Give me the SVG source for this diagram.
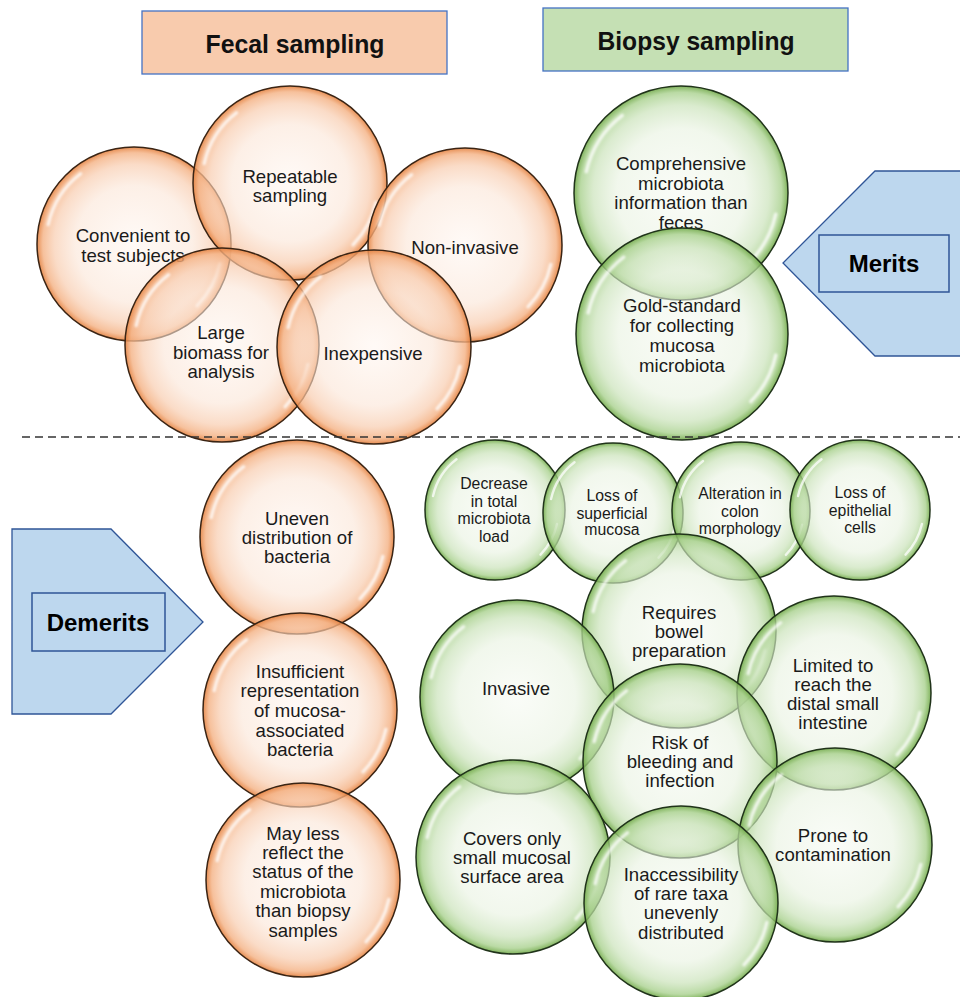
<svg xmlns="http://www.w3.org/2000/svg" xmlns:xlink="http://www.w3.org/1999/xlink" width="960" height="997" viewBox="0 0 960 997">
<style>
.t{font-family:"Liberation Sans",Arial,sans-serif;font-size:18.6px;fill:#1a1a1a;text-anchor:middle}
.s{font-size:15.8px}
.b{font-weight:bold;font-size:24px;fill:#000}
.hd{font-family:"Liberation Sans",Arial,sans-serif;font-weight:bold;font-size:26px;fill:#111;text-anchor:middle}
.oc{fill:url(#og);stroke:#3a2414;stroke-width:1.5}
.gc{fill:url(#gg);stroke:#20331a;stroke-width:1.5}
.arrow{fill:#BDD7EE;stroke:#2F5597;stroke-width:1.3}
.ibox{fill:#BDD7EE;stroke:#2F5597;stroke-width:1.5}
.sep{stroke:#333;stroke-width:1.5;stroke-dasharray:8 5;fill:none}
</style>
<defs>
<radialGradient id="og" cx="0.5" cy="0.5" r="0.5">
<stop offset="0" stop-color="#FFF6F0" stop-opacity="0.55"/>
<stop offset="0.6" stop-color="#FBE5D6" stop-opacity="0.6"/>
<stop offset="0.82" stop-color="#F8CBAD" stop-opacity="0.68"/>
<stop offset="0.94" stop-color="#F4B183" stop-opacity="0.8"/>
<stop offset="1" stop-color="#E4813F" stop-opacity="0.9"/>
</radialGradient>
<radialGradient id="gg" cx="0.5" cy="0.5" r="0.5">
<stop offset="0" stop-color="#F6FAF2" stop-opacity="0.55"/>
<stop offset="0.6" stop-color="#E8F2E0" stop-opacity="0.6"/>
<stop offset="0.82" stop-color="#C9E2B8" stop-opacity="0.68"/>
<stop offset="0.94" stop-color="#A9D18E" stop-opacity="0.8"/>
<stop offset="1" stop-color="#72AA4A" stop-opacity="0.9"/>
</radialGradient>
<filter id="soft" x="-20%" y="-20%" width="140%" height="140%"><feGaussianBlur stdDeviation="0.9"/></filter>
<g id="hl" fill="none" stroke="#fff" stroke-width="3.5" stroke-linecap="round" stroke-opacity="0.75" filter="url(#soft)">
<path d="M -88.5,-20 A 91 91 0 0 1 -55,-72.5"/>
<path d="M 88.5,20 A 91 91 0 0 1 65,63.7"/>
</g>
</defs>

<rect width="960" height="997" fill="#fff"/>

<g id="header-fecal">
<rect x="142" y="11" width="305" height="63" fill="#F8CBAD" stroke="#4472C4" stroke-width="1.3"/>
<text class="hd" x="295" y="53" textLength="179" lengthAdjust="spacingAndGlyphs">Fecal sampling</text>
</g>
<g id="header-biopsy">
<rect x="543" y="8" width="305" height="63" fill="#C5E0B4" stroke="#4472C4" stroke-width="1.3"/>
<text class="hd" x="696" y="50" textLength="197" lengthAdjust="spacingAndGlyphs">Biopsy sampling</text>
</g>

<!-- Fecal merits -->
<g id="convenient">
<circle class="oc" cx="134" cy="244" r="97"/><use href="#hl" transform="translate(134,244) scale(0.97)"/>
<text class="t" x="133" y="242">Convenient to</text><text class="t" x="133" y="262">test subjects</text>
</g>
<g id="repeatable">
<circle class="oc" cx="290" cy="183" r="97"/><use href="#hl" transform="translate(290,183) scale(0.97)"/>
<text class="t" x="290" y="183">Repeatable</text><text class="t" x="290" y="202">sampling</text>
</g>
<g id="noninvasive">
<circle class="oc" cx="465" cy="245" r="97"/><use href="#hl" transform="translate(465,245) scale(0.97)"/>
<text class="t" x="465" y="254">Non-invasive</text>
</g>
<g id="largebiomass">
<circle class="oc" cx="222" cy="345" r="97"/><use href="#hl" transform="translate(222,345) scale(0.97)"/>
<text class="t" x="221" y="339">Large</text><text class="t" x="221" y="359">biomass for</text><text class="t" x="221" y="378">analysis</text>
</g>
<g id="inexpensive">
<circle class="oc" cx="374" cy="347" r="97"/><use href="#hl" transform="translate(374,347) scale(0.97)"/>
<text class="t" x="373" y="360">Inexpensive</text>
</g>

<!-- Biopsy merits -->
<g id="comprehensive">
<circle class="gc" cx="681" cy="193" r="107"/><use href="#hl" transform="translate(681,193) scale(1.07)"/>
<text class="t" x="681" y="170">Comprehensive</text><text class="t" x="681" y="190">microbiota</text><text class="t" x="681" y="209">information than</text><text class="t" x="681" y="229">feces</text>
</g>
<g id="goldstandard">
<circle class="gc" cx="682" cy="334" r="106"/><use href="#hl" transform="translate(682,334) scale(1.06)"/>
<text class="t" x="682" y="312">Gold-standard</text><text class="t" x="682" y="332">for collecting</text><text class="t" x="682" y="352">mucosa</text><text class="t" x="682" y="372">microbiota</text>
</g>

<g id="merits">
<polygon class="arrow" points="962,171 875,171 783,263 875,356 962,356"/>
<rect class="ibox" x="819" y="235" width="130" height="57"/>
<text class="t b" x="884" y="272">Merits</text>
</g>

<g id="separator">
<line class="sep" x1="22" y1="437" x2="960" y2="437"/>
</g>

<g id="demerits">
<polygon class="arrow" points="12,529 111,529 203,622 111,714 12,714"/>
<rect class="ibox" x="32" y="593" width="133" height="58"/>
<text class="t b" x="98" y="631">Demerits</text>
</g>

<!-- Fecal demerits -->
<g id="uneven">
<circle class="oc" cx="297" cy="537" r="97"/><use href="#hl" transform="translate(297,537) scale(0.97)"/>
<text class="t" x="297" y="525">Uneven</text><text class="t" x="297" y="544">distribution of</text><text class="t" x="297" y="563">bacteria</text>
</g>
<g id="insufficient">
<circle class="oc" cx="300" cy="710" r="97"/><use href="#hl" transform="translate(300,710) scale(0.97)"/>
<text class="t" x="300" y="678">Insufficient</text><text class="t" x="300" y="697">representation</text><text class="t" x="300" y="717">of mucosa-</text><text class="t" x="300" y="737">associated</text><text class="t" x="300" y="756">bacteria</text>
</g>
<g id="mayless">
<circle class="oc" cx="303" cy="880" r="97"/><use href="#hl" transform="translate(303,880) scale(0.97)"/>
<text class="t" x="303" y="840">May less</text><text class="t" x="303" y="859">reflect the</text><text class="t" x="303" y="878">status of the</text><text class="t" x="303" y="898">microbiota</text><text class="t" x="303" y="917">than biopsy</text><text class="t" x="303" y="937">samples</text>
</g>

<!-- Biopsy demerits: small -->
<g id="decrease">
<circle class="gc" cx="495" cy="510" r="70"/><use href="#hl" transform="translate(495,510) scale(0.7)"/>
<text class="t s" x="494" y="489">Decrease</text><text class="t s" x="494" y="507">in total</text><text class="t s" x="494" y="524">microbiota</text><text class="t s" x="494" y="542">load</text>
</g>
<g id="superficial">
<circle class="gc" cx="613" cy="513" r="70"/><use href="#hl" transform="translate(613,513) scale(0.7)"/>
<text class="t s" x="612" y="501">Loss of</text><text class="t s" x="612" y="519">superficial</text><text class="t s" x="612" y="535">mucosa</text>
</g>
<g id="alteration">
<circle class="gc" cx="741" cy="511" r="69"/><use href="#hl" transform="translate(741,511) scale(0.69)"/>
<text class="t s" x="740" y="499">Alteration in</text><text class="t s" x="740" y="517">colon</text><text class="t s" x="740" y="534">morphology</text>
</g>
<g id="epithelial">
<circle class="gc" cx="860" cy="510" r="70"/><use href="#hl" transform="translate(860,510) scale(0.7)"/>
<text class="t s" x="860" y="498">Loss of</text><text class="t s" x="860" y="516">epithelial</text><text class="t s" x="860" y="533">cells</text>
</g>

<!-- Biopsy demerits: large -->
<g id="requires">
<circle class="gc" cx="679" cy="631" r="97"/><use href="#hl" transform="translate(679,631) scale(0.97)"/>
<text class="t" x="679" y="619">Requires</text><text class="t" x="679" y="638">bowel</text><text class="t" x="679" y="657">preparation</text>
</g>
<g id="invasive">
<circle class="gc" cx="517" cy="697" r="97"/><use href="#hl" transform="translate(517,697) scale(0.97)"/>
<text class="t" x="516" y="695">Invasive</text>
</g>
<g id="limited">
<circle class="gc" cx="834" cy="693" r="97"/><use href="#hl" transform="translate(834,693) scale(0.97)"/>
<text class="t" x="833" y="672">Limited to</text><text class="t" x="833" y="691">reach the</text><text class="t" x="833" y="710">distal small</text><text class="t" x="833" y="729">intestine</text>
</g>
<g id="risk">
<circle class="gc" cx="680" cy="761" r="97"/><use href="#hl" transform="translate(680,761) scale(0.97)"/>
<text class="t" x="680" y="749">Risk of</text><text class="t" x="680" y="768">bleeding and</text><text class="t" x="680" y="787">infection</text>
</g>
<g id="covers">
<circle class="gc" cx="513" cy="857" r="97"/><use href="#hl" transform="translate(513,857) scale(0.97)"/>
<text class="t" x="512" y="845">Covers only</text><text class="t" x="512" y="864">small mucosal</text><text class="t" x="512" y="883">surface area</text>
</g>
<g id="prone">
<circle class="gc" cx="835" cy="845" r="97"/><use href="#hl" transform="translate(835,845) scale(0.97)"/>
<text class="t" x="833" y="842">Prone to</text><text class="t" x="833" y="861">contamination</text>
</g>
<g id="inaccessibility">
<circle class="gc" cx="681" cy="903" r="97"/><use href="#hl" transform="translate(681,903) scale(0.97)"/>
<text class="t" x="681" y="881">Inaccessibility</text><text class="t" x="681" y="900">of rare taxa</text><text class="t" x="681" y="919">unevenly</text><text class="t" x="681" y="939">distributed</text>
</g>
</svg>
